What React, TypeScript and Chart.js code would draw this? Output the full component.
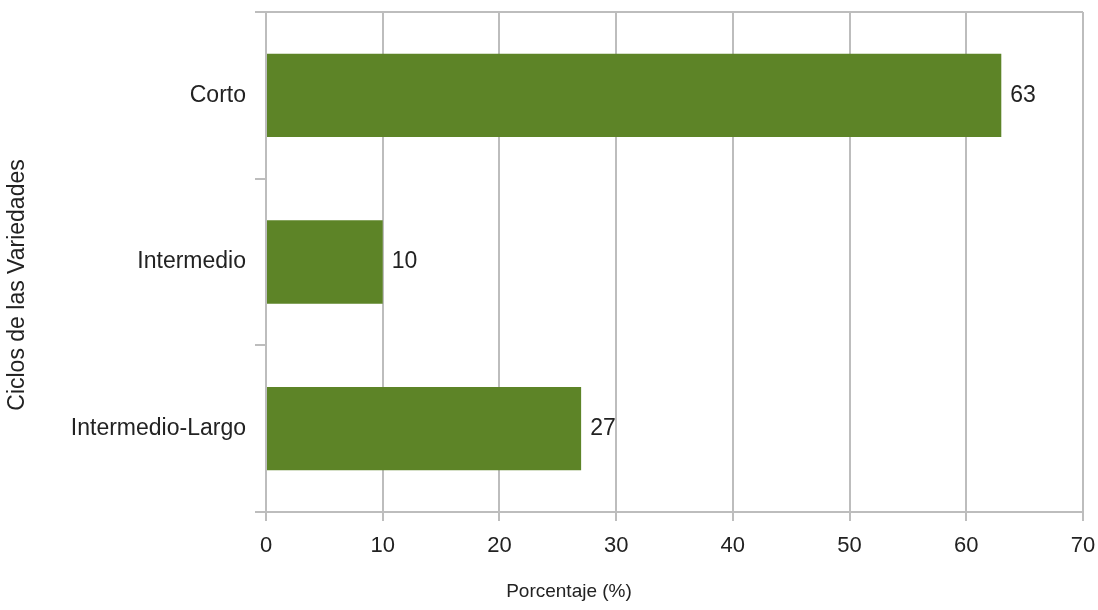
import React, { useEffect, useRef } from "react";
import { Chart, registerables } from "chart.js";

Chart.register(...registerables);

const categories = ["Corto", "Intermedio", "Intermedio-Largo"];
const values = [63, 10, 27];
const xMin = 0;
const xMax = 70;
const xStep = 10;
const xTitle = "Porcentaje (%)";
const yTitle = "Ciclos de las Variedades";

const FONT = "'Liberation Sans', Arial, sans-serif";
const GRID = "#bdbdbd";
const TEXT = "#222222";
const BAR = "#5d8427";

export default function App() {
  const ref = useRef<HTMLCanvasElement | null>(null);

  useEffect(() => {
    document.body.style.margin = "0";
    const canvas = ref.current;
    if (!canvas) return;

    const valueLabels = {
      id: "valueLabels",
      afterDatasetsDraw(chart: any) {
        const ctx = chart.ctx;
        const meta = chart.getDatasetMeta(0);
        ctx.save();
        ctx.font = `23px ${FONT}`;
        ctx.fillStyle = TEXT;
        ctx.textAlign = "left";
        ctx.textBaseline = "middle";
        meta.data.forEach((bar: any, i: number) => {
          ctx.fillText(String(values[i]), bar.x + 9, bar.y);
        });
        ctx.restore();
      },
    };

    const axisTitles = {
      id: "axisTitles",
      afterDraw(chart: any) {
        const ctx = chart.ctx;
        const area = chart.chartArea;
        ctx.save();
        ctx.fillStyle = TEXT;
        ctx.textAlign = "center";
        ctx.textBaseline = "middle";
        ctx.font = `19px ${FONT}`;
        ctx.fillText(xTitle, area.left + 303, area.bottom + 80);
        ctx.font = `23px ${FONT}`;
        ctx.translate(18, area.top + 273);
        ctx.rotate(-Math.PI / 2);
        ctx.fillText(yTitle, 0, 0);
        ctx.restore();
      },
    };

    const chart = new Chart(canvas, {
      type: "bar",
      data: {
        labels: categories,
        datasets: [
          {
            data: values,
            backgroundColor: BAR,
            borderWidth: 0,
            barPercentage: 0.5,
            categoryPercentage: 1,
          },
        ],
      },
      options: {
        indexAxis: "y",
        animation: false,
        responsive: false,
        maintainAspectRatio: false,
        layout: { padding: { top: 12, right: 15, left: 0, bottom: 0 } },
        plugins: {
          legend: { display: false },
          tooltip: { enabled: false },
        },
        scales: {
          x: {
            type: "linear",
            min: xMin,
            max: xMax,
            ticks: {
              stepSize: xStep,
              color: TEXT,
              font: { family: FONT, size: 22 },
              padding: 12,
            },
            grid: {
              color: GRID,
              lineWidth: 2,
              tickLength: 9,
              tickColor: GRID,
            },
            border: { display: true, color: GRID, width: 2 },
            afterFit(scale: any) {
              scale.height = 98;
              scale.paddingLeft = 0;
              scale.paddingRight = 0;
              scale.paddingTop = 0;
              scale.paddingBottom = 0;
            },
          },
          y: {
            type: "category",
            offset: true,
            ticks: {
              color: TEXT,
              font: { family: FONT, size: 23 },
              padding: 9,
            },
            grid: {
              offset: true,
              lineWidth: 2,
              color: (c: any) =>
                c.index === 0 || c.index === undefined ? GRID : "rgba(0,0,0,0)",
              tickColor: GRID,
              tickLength: 11,
            },
            border: { display: true, color: GRID, width: 2 },
            afterFit(scale: any) {
              scale.width = 266;
              scale.paddingLeft = 0;
              scale.paddingRight = 0;
              scale.paddingTop = 0;
              scale.paddingBottom = 0;
            },
          },
        },
      },
      plugins: [valueLabels, axisTitles],
    });

    return () => chart.destroy();
  }, []);

  return (
    <div style={{ width: 1098, height: 610, background: "#fff" }}>
      <canvas ref={ref} width={1098} height={610} style={{ display: "block" }} />
    </div>
  );
}
